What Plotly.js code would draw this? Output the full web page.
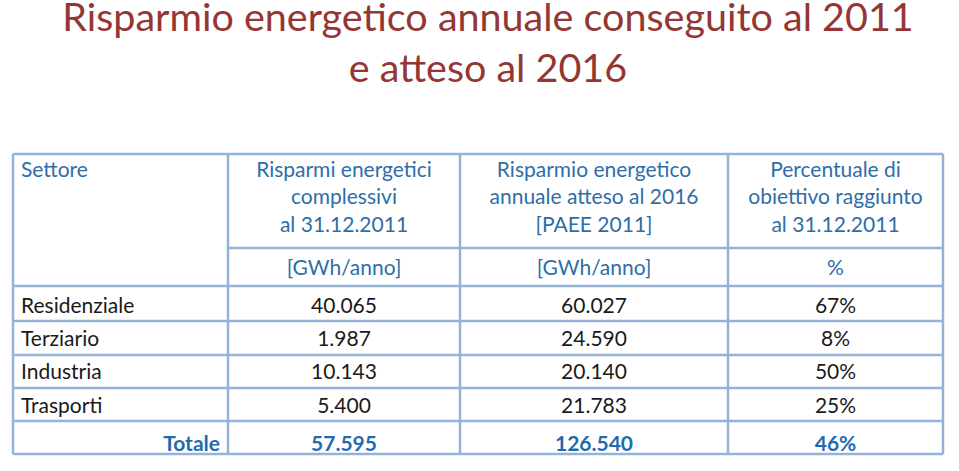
<!DOCTYPE html>
<html>
<head>
<meta charset="utf-8">
<script src="https://cdn.plot.ly/plotly-3.0.1.min.js"></script>
<style>html,body{margin:0;padding:0;background:#fff;}#chart{width:959px;height:471px;}</style>
</head>
<body>
<div id="chart"></div>
<script>
// ---- data ----
const titleText = "Risparmio energetico annuale conseguito al 2011<br>e atteso al 2016";
// header lines, one array per column (each line its own header row)
const headSettore = ["Settore", "", ""];
const headAchieved = ["Risparmi energetici", "complessivi", "al 31.12.2011"];
const headExpected = ["Risparmio energetico", "annuale atteso al 2016", "[PAEE 2011]"];
const headPercent = ["Percentuale di", "obiettivo raggiunto", "al 31.12.2011"];
const units = ["", "[GWh/anno]", "[GWh/anno]", "%"];
const sectors = ["Residenziale", "Terziario", "Industria", "Trasporti"];
const achieved2011 = ["40.065", "1.987", "10.143", "5.400"];
const expected2016 = ["60.027", "24.590", "20.140", "21.783"];
const percentReached = ["67%", "8%", "50%", "25%"];
const totalLabel = "Totale";
const totals = ["57.595", "126.540", "46%"];

// ---- styles ----
const W = 959, H = 471;
const headBlue = "#2e6ea8";
const totBlue = "#1f6bb0";
const lineBlue = "#95b3d7";
const fontFam = "Lato, 'Open Sans', sans-serif";
const clear = "rgba(0,0,0,0)";

const b = s => "<b>" + s + "</b>";
const colVals = [
  sectors.concat([b(totalLabel)]),
  achieved2011.concat([b(totals[0])]),
  expected2016.concat([b(totals[1])]),
  percentReached.concat([b(totals[2])])
];
const nRows = colVals[0].length;
const colColors = colVals.map(() => {
  const c = [];
  for (let i = 0; i < nRows - 1; i++) c.push("#1a1a1a");
  c.push(totBlue);
  return c;
});
const col0Align = colVals[0].map((v, i) => i === nRows - 1 ? "right" : "left");

// table geometry (pixels)
const tLeft = 13, tRight = 943, tTop = 154, tBottom = 454;
const colX = [13, 228, 460, 728, 943];
const rowY = [154, 248, 286, 321, 355, 388, 421, 454];
const px = x => x / W, py = y => 1 - y / H;
const colW = [colX[1]-colX[0], colX[2]-colX[1], colX[3]-colX[2], colX[4]-colX[3]];
const xDom = [px(tLeft), px(tRight)];

const titleTable = {
  type: "table",
  domain: {x: xDom, y: [0, py(153)]},
  columnwidth: colW,
  header: {
    values: [headSettore, headAchieved, headExpected, headPercent],
    align: ["left", "center", "center", "center"],
    height: 27.5,
    fill: {color: clear},
    line: {color: clear, width: 0},
    font: {family: fontFam, size: 21, color: headBlue}
  },
  cells: {values: [], fill: {color: clear}, line: {color: clear, width: 0}}
};

const dataTable = {
  type: "table",
  domain: {x: xDom, y: [0, py(251)]},
  columnwidth: colW,
  header: {
    values: units,
    align: ["left", "center", "center", "center"],
    height: 38,
    fill: {color: clear},
    line: {color: clear, width: 0},
    font: {family: fontFam, size: 21, color: headBlue}
  },
  cells: {
    values: colVals,
    align: [col0Align, "center", "center", "center"],
    height: 33.25,
    fill: {color: clear},
    line: {color: clear, width: 0},
    font: {family: fontFam, size: 21, color: colColors}
  }
};

const shapes = [];
const ln = {color: lineBlue, width: 2.5};
rowY.forEach((y, i) => {
  const x0 = (i === 1) ? colX[1] : tLeft;
  shapes.push({type: "line", xref: "paper", yref: "paper", x0: px(x0), x1: px(tRight), y0: py(y), y1: py(y), line: ln});
});
colX.forEach(x => {
  shapes.push({type: "line", xref: "paper", yref: "paper", x0: px(x), x1: px(x), y0: py(tTop), y1: py(tBottom), line: ln});
});

const layout = {
  width: W, height: H,
  margin: {l: 0, r: 0, t: 0, b: 0},
  paper_bgcolor: "#ffffff",
  title: {
    text: titleText,
    x: 488 / W, xanchor: "center",
    y: 1 - 31 / H, yanchor: "top",
    font: {family: fontFam, size: 39.5, color: "#943634"}
  },
  shapes: shapes,
  showlegend: false
};

Plotly.newPlot("chart", [titleTable, dataTable], layout, {displayModeBar: false, staticPlot: true});
</script>
</body>
</html>
